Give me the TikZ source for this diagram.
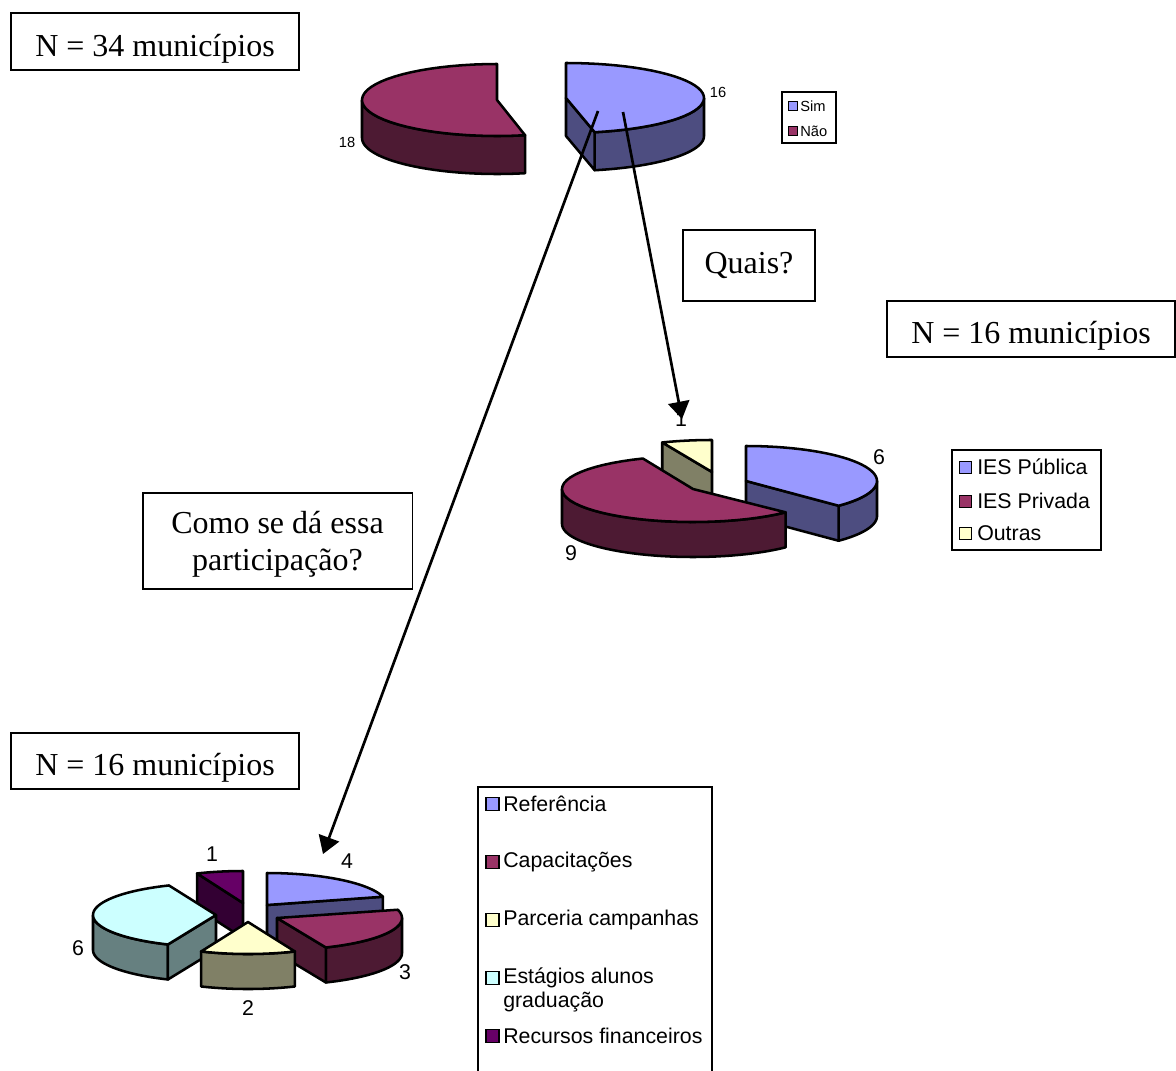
\documentclass[tikz,border=0pt]{standalone}
\usepackage{fontspec}
\setmainfont{Liberation Serif}
\newfontfamily\rotulo{Liberation Sans}
\usetikzlibrary{arrows.meta}

\definecolor{azulTopo}{HTML}{9999FF}
\definecolor{azulLado}{HTML}{4D4D80}
\definecolor{vinhoTopo}{HTML}{993366}
\definecolor{vinhoLado}{HTML}{4D1A33}
\definecolor{cremeTopo}{HTML}{FFFFCC}
\definecolor{cremeLado}{HTML}{808066}
\definecolor{cianoTopo}{HTML}{CCFFFF}
\definecolor{cianoLado}{HTML}{668080}
\definecolor{roxoTopo}{HTML}{660066}
\definecolor{roxoLado}{HTML}{330033}

\tikzset{
  fatia/.style={draw=black, line width=1.9pt, line join=round, samples=40},
  caixa/.style={draw, line width=1pt, align=center, inner sep=0pt,
    font=\fontsize{24}{27.75}\selectfont},
  linha/.style={text height=23pt, text depth=1pt},
  legenda/.style={draw, line width=0.8pt, inner sep=0pt},
  chave/.style={draw, line width=1.2pt, inner sep=0pt},
  valor/.style={inner sep=0pt, font=\rotulo\fontsize{16}{18}\selectfont},
  valorp/.style={inner sep=0pt, font=\rotulo\fontsize{11}{13}\selectfont},
  seta/.style={line width=2pt, -{Triangle[length=13pt,width=16pt]}}
}

% fatia 3D: centro x, centro y, raio x, raio y, ...
\newcommand{\pietop}[7]{\filldraw[fatia, fill=#7] (#1,#2) -- plot[domain=#5:#6] ({#1+#3*cos(\x)},{#2-#4*sin(\x)}) -- cycle;}
\newcommand{\pieside}[8]{\filldraw[fatia, fill=#8] plot[domain=#5:#6] ({#1+#3*cos(\x)},{#2-#4*sin(\x)}) -- plot[domain=#6:#5] ({#1+#3*cos(\x)},{#2+#7-#4*sin(\x)}) -- cycle;}
\newcommand{\piecut}[7]{\filldraw[fatia, fill=#7] (#1,#2) -- ({#1+#3*cos(#5)},{#2-#4*sin(#5)}) -- ++(0,#6) -- (#1,{#2+#6}) -- cycle;}

\begin{document}
\begin{tikzpicture}[x=0.75pt, y=-0.75pt]
  \useasboundingbox[fill=white] (0,0) rectangle (1176,1070);

  % Sim / Nao
  \pieside{497}{100}{135}{36}{180}{282}{38}{vinhoLado}
  \pietop{497}{100}{135}{36}{90}{282}{vinhoTopo}
  \pieside{566}{98}{138}{35}{-78}{0}{38}{azulLado}
  \piecut{566}{98}{138}{35}{-78}{38}{azulLado}
  \pietop{566}{98}{138}{35}{-78}{90}{azulTopo}
  \node[valorp] (v16) at (718,92) {16};
  \node[valorp] (v18) at (347,142) {18};

  \node[legenda, minimum width=40.5pt, minimum height=38.25pt] (legTopo) at (809,117.5) {};
  \node[chave, fill=azulTopo, minimum size=6.5pt] (kSim) at (793,106) {};
  \node[chave, fill=vinhoTopo, minimum size=6.5pt] (kNao) at (793,131) {};
  \node[valorp, anchor=west] (tSim) at (800,106) {Sim};
  \node[valorp, anchor=west] (tNao) at (800,131) {Não};

  % IES
  \piecut{712}{472}{130}{32}{112.5}{35}{cremeLado}
  \pietop{712}{472}{130}{32}{90}{112.5}{cremeTopo}
  \pieside{746}{481}{131}{35}{-45}{0}{35}{azulLado}
  \piecut{746}{481}{131}{35}{-45}{35}{azulLado}
  \pietop{746}{481}{131}{35}{-45}{90}{azulTopo}
  \pieside{693}{489}{131}{33}{180}{315}{35}{vinhoLado}
  \pietop{693}{489}{131}{33}{112.5}{315}{vinhoTopo}
  \node[valor] (v6) at (879,457) {6};
  \node[valor] (v9) at (571,553) {9};
  \node[valor] (v1) at (681,419.5) {1};

  \node[legenda, minimum width=111.75pt, minimum height=75pt] (legMeio) at (1026.5,500) {};
  \node[chave, fill=azulTopo, minimum size=9pt] (kPub) at (965.5,467.5) {};
  \node[chave, fill=vinhoTopo, minimum size=9pt] (kPriv) at (965.5,501.5) {};
  \node[chave, fill=cremeTopo, minimum size=9pt] (kOutras) at (965.5,533.5) {};
  \node[valor, anchor=west] (tPub) at (977,467) {IES Pública};
  \node[valor, anchor=west] (tPriv) at (977,501) {IES Privada};
  \node[valor, anchor=west] (tOutras) at (977,533) {Outras};

  % participacao
  \piecut{243}{903}{120}{32}{112.5}{35}{roxoLado}
  \pietop{243}{903}{120}{32}{90}{112.5}{roxoTopo}
  \piecut{267}{905}{120}{32}{15}{35}{azulLado}
  \pietop{267}{905}{120}{32}{15}{90}{azulTopo}
  \pieside{216}{915}{123}{32}{180}{247}{35}{cianoLado}
  \piecut{216}{915}{123}{32}{247}{35}{cianoLado}
  \pietop{216}{915}{123}{32}{112.5}{247}{cianoTopo}
  \pieside{277}{918}{125}{32}{-67}{0}{35}{vinhoLado}
  \piecut{277}{918}{125}{32}{-67}{35}{vinhoLado}
  \pietop{277}{918}{125}{32}{-67}{15}{vinhoTopo}
  \pieside{248}{922}{120}{32}{-113}{-67}{35}{cremeLado}
  \pietop{248}{922}{120}{32}{-113}{-67}{cremeTopo}
  \node[valor] (p1) at (212,854) {1};
  \node[valor] (p4) at (347,861) {4};
  \node[valor] (p6) at (78,948) {6};
  \node[valor] (p3) at (405,972) {3};
  \node[valor] (p2) at (248,1008) {2};

  \node[legenda, minimum width=175.5pt, minimum height=223.5pt] (legBaixo) at (595,936) {};
  \node[chave, fill=azulTopo, minimum size=9.5pt] (kRef) at (492.5,804) {};
  \node[chave, fill=vinhoTopo, minimum size=9.5pt] (kCap) at (492.5,862) {};
  \node[chave, fill=cremeTopo, minimum size=9.5pt] (kParc) at (492.5,920) {};
  \node[chave, fill=cianoTopo, minimum size=9.5pt] (kEst) at (492.5,978) {};
  \node[chave, fill=roxoTopo, minimum size=9.5pt] (kRec) at (492.5,1036) {};
  \node[valor, anchor=west] (tRef) at (503,804) {Referência};
  \node[valor, anchor=west] (tCap) at (503,862) {Capacitações};
  \node[valor, anchor=west] (tParc) at (503,920) {Parceria campanhas};
  \node[valor, anchor=west, align=left] (tEst) at (503,990) {Estágios alunos\\graduação};
  \node[valor, anchor=west] (tRec) at (503,1036) {Recursos financeiros};

  % caixas de texto
  \node[caixa, linha, minimum width=216pt, minimum height=42.75pt] (n34) at (155,41.5) {N = 34 municípios};
  \node[caixa, minimum width=99pt, minimum height=53.25pt] (quais) at (749,265.5) {Quais?};
  \node[caixa, linha, minimum width=216pt, minimum height=42pt] (n16a) at (1031,329) {N = 16 municípios};
  \node[caixa, text depth=0pt, minimum width=202pt, minimum height=72pt] (como) at (277.5,541) {Como se dá essa\\participação?};
  \node[caixa, linha, minimum width=216pt, minimum height=42pt] (n16b) at (155,761) {N = 16 municípios};

  % setas
  \coordinate (simA) at (598,111);
  \coordinate (simB) at (623,112);
  \coordinate (partTip) at (323,854);
  \coordinate (iesTip) at (682,419);
  \draw[seta] (simA) -- (partTip);
  \draw[seta] (simB) -- (iesTip);
\end{tikzpicture}
\end{document}
